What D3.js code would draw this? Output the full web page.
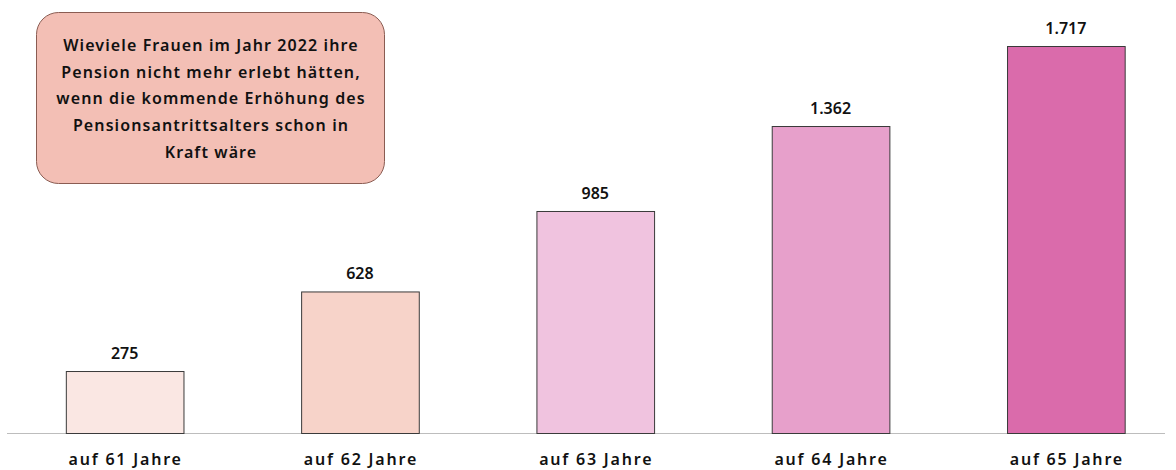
<!DOCTYPE html>
<html>
<head>
<meta charset="utf-8">
<script src="https://cdn.jsdelivr.net/npm/d3@7"></script>
<style>
  body { margin: 0; background: #fff; }
  svg text { font-family: 'Noto Sans', 'Open Sans', sans-serif; fill: #111; }
</style>
</head>
<body>
<div id="chart"></div>
<script>
const categories = ['auf 61 Jahre', 'auf 62 Jahre', 'auf 63 Jahre', 'auf 64 Jahre', 'auf 65 Jahre'];
const values = [275, 628, 985, 1362, 1717];
const valueLabels = ['275', '628', '985', '1.362', '1.717'];
const barColors = ['#fae7e3', '#f7d3c9', '#f0c3df', '#e7a0cb', '#da6bab'];
const noteLines = [
    'Wieviele Frauen im Jahr 2022 ihre',
    'Pension nicht mehr erlebt hätten,',
    'wenn die kommende Erhöhung des',
    'Pensionsantrittsalters schon in',
    'Kraft wäre'
];

const dim = { width: 1176, height: 470, base: 433, top: 46 };
const font = "'Noto Sans', 'Open Sans', sans-serif";

const svg = d3.select('#chart')
    .append('svg')
        .attr('width', dim.width)
        .attr('height', dim.height);

const x = d3.scaleBand()
    .domain(categories)
    .range([7, 1183.5])
    .paddingInner(0.5)
    .paddingOuter(0.25);

const y = d3.scaleLinear()
    .domain([0, d3.max(values)])
    .range([dim.base, dim.top]);

const data = categories.map((c, i) => ({ cat: c, value: values[i], label: valueLabels[i], color: barColors[i] }));

// baseline
svg.append('line')
    .attr('x1', 7).attr('x2', 1165)
    .attr('y1', dim.base + 0.5).attr('y2', dim.base + 0.5)
    .attr('stroke', '#bdbdbd')
    .attr('stroke-width', 1);

svg.selectAll('rect.bar')
    .data(data)
    .enter()
    .append('rect')
        .attr('class', 'bar')
        .attr('x', d => x(d.cat) + 0.5)
        .attr('y', d => y(d.value) + 0.5)
        .attr('width', x.bandwidth())
        .attr('height', d => y(0) - y(d.value))
        .attr('fill', d => d.color)
        .attr('stroke', '#3a3a3a')
        .attr('stroke-width', 1);

svg.selectAll('text.val')
    .data(data)
    .enter()
    .append('text')
        .attr('class', 'val')
        .attr('x', d => x(d.cat) + x.bandwidth() / 2)
        .attr('y', d => y(d.value) - 12)
        .attr('text-anchor', 'middle')
        .attr('font-size', '16px')
        .attr('font-weight', 600)
        .text(d => d.label);

const xAxis = svg.append('g')
    .attr('transform', `translate(0, ${dim.base})`)
    .call(d3.axisBottom(x).tickSize(0).tickPadding(21));
xAxis.select('.domain').remove();
xAxis.selectAll('text')
    .attr('font-size', '16px')
    .attr('font-weight', 600)
    .attr('letter-spacing', '1.8px')
    .attr('dx', '1px')
    .attr('fill', '#111')
    .style('font-family', font);

// note box
const note = svg.append('g').attr('class', 'note');
note.append('rect')
    .attr('x', 36.5).attr('y', 12.5)
    .attr('width', 348).attr('height', 171)
    .attr('rx', 22).attr('ry', 22)
    .attr('fill', '#f3bfb5')
    .attr('stroke', '#8a5c52')
    .attr('stroke-width', 1);

note.selectAll('text')
    .data(noteLines)
    .enter()
    .append('text')
        .attr('x', 211)
        .attr('y', (d, i) => 51 + i * 26.7)
        .attr('text-anchor', 'middle')
        .attr('font-size', '16px')
        .attr('font-weight', 600)
        .attr('letter-spacing', '1.1px')
        .text(d => d);
</script>
</body>
</html>
